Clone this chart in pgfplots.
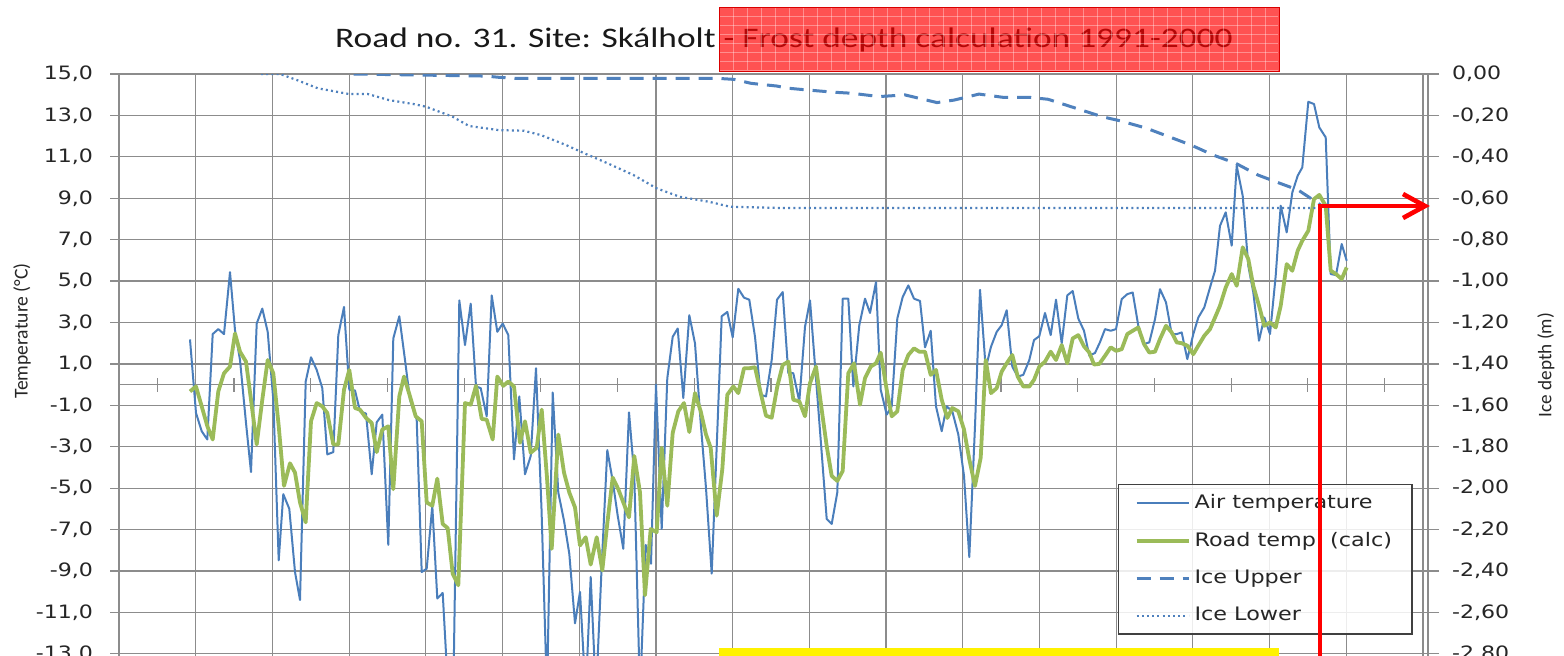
\documentclass[border=0pt]{standalone}
\usepackage{fontspec}
\usepackage{pgfplots}
\pgfplotsset{compat=1.18}
\newfontfamily\dvs{DejaVu Sans}[FakeStretch=1.2]
\newfontfamily\carl{Carlito}[FakeStretch=1.25]
\newfontfamily\carlplain{Carlito}
\definecolor{airblue}{HTML}{4A7EBB}
\definecolor{roadgreen}{HTML}{9BBB59}
\definecolor{iceblue}{HTML}{4F81BD}
\definecolor{gridgray}{HTML}{8C8C8C}
\pgfplotsset{common/.style={at={(59.5pt,-37pt)}, anchor=north west, scale only axis,
  width=654.5pt, height=293pt, xmin=119, xmax=1428}}
\begin{document}
\begin{tikzpicture}
\useasboundingbox (0,0) rectangle (782pt,-327.5pt);
\clip (0,0) rectangle (782pt,-327.5pt);
\fill[white] (0,0) rectangle (782pt,-327.5pt);
\begin{scope}[x=0.5pt,y=-0.5pt]
\node[font=\carl\fontsize{14.15}{16}\selectfont, text=black!90] at (784,40) {Road no. 31. Site: Skálholt - Frost depth calculation 1991-2000};
\node[font=\carlplain\fontsize{9.8}{11}\selectfont, rotate=90, text=black!85] at (22,331) {Temperature (°C)};
\node[font=\carlplain\fontsize{9.6}{11}\selectfont, rotate=90, text=black!85] at (1546,365) {Ice depth (m)};
\end{scope}

% zero line with category ticks
\begin{axis}[common, ymin=-13.3, ymax=15, axis y line=none, axis x line=middle,
  x axis line style={-}, axis line style={gridgray, line width=0.6pt},
  xtick={157.35,234.05,310.75,387.45,464.15,540.85,617.55,694.25,770.95,847.65,924.35,1001.05,1077.75,1154.45,1231.15,1307.85,1384.55},
  xticklabels={}, tick align=center, major tick length=7pt,
  xtick style={gridgray, line width=0.6pt}, ytick=\empty]
\end{axis}

\begin{axis}[common, ymin=-13.3, ymax=15,
  xtick={195.7,272.4,349.1,425.8,502.5,579.2,655.9,732.6,809.3,886.0,962.7,1039.4,1116.1,1192.8,1269.5,1346.2,1422.9},
  xticklabels={}, xtick style={draw=none},
  ytick={-13,-11,-9,-7,-5,-3,-1,1,3,5,7,9,11,13,15}, ytick pos=left,
  tick align=outside, major tick length=4.5pt,
  ytick style={gridgray, line width=0.6pt},
  xmajorgrids, ymajorgrids,
  major grid style={gridgray, line width=0.6pt},
  axis line style={gridgray, line width=0.6pt},
  yticklabel style={font=\dvs\fontsize{9.2}{11}\selectfont, text=black!85, xshift=-5pt,
    /pgf/number format/.cd, fixed, fixed zerofill, precision=1, use comma, assume math mode=true},
  legend style={at={(0.7632,0.3003)}, anchor=north west, draw=black!75, line width=0.7pt,
    fill=white, fill opacity=0.85, text opacity=1, font=\dvs\fontsize{9.3}{11}\selectfont,
    text=black!85, inner xsep=8pt, inner ysep=3pt, row sep=6.3pt,
    /tikz/every even column/.append style={column sep=2pt}},
  legend cell align=left,
  legend image code/.code={\draw[#1] (0pt,0pt) -- (26pt,0pt);},
]
\addplot[airblue, line width=1pt, line join=round] table {
190.0 2.18
196.0 -1.37
201.7 -2.25
207.3 -2.65
212.7 2.44
218.3 2.68
224.0 2.44
230.0 5.43
235.0 2.63
240.0 1.19
246.0 -1.85
251.0 -4.22
256.7 2.95
262.3 3.67
267.7 2.55
273.3 -0.73
278.7 -8.49
283.3 -5.29
289.3 -6.00
295.0 -9.05
300.0 -10.40
305.7 0.15
311.0 1.32
316.7 0.71
322.3 -0.17
327.3 -3.37
333.3 -3.26
338.3 2.39
344.0 3.75
349.3 -0.25
355.0 -0.28
360.0 -1.29
366.0 -1.40
371.7 -4.33
376.7 -1.82
382.3 -1.45
388.3 -7.74
393.3 2.23
399.3 3.30
405.0 1.19
410.0 -0.73
416.7 -1.69
421.7 -9.05
426.7 -8.89
432.3 -5.85
437.3 -10.33
442.7 -10.06
448.3 -15.0
453.3 -15.0
459.3 4.07
465.0 1.91
470.7 3.91
476.0 -0.09
480.7 -0.17
486.7 -1.53
491.7 4.31
497.3 2.55
502.7 2.95
508.3 2.39
514.0 -3.61
519.3 -0.57
525.0 -4.33
530.7 -3.45
536.0 0.79
541.5 -6.00
547.0 -15.0
552.7 -0.38
558.3 -5.21
564.0 -6.57
569.3 -8.17
575.0 -11.53
580.0 -10.01
585.7 -15.0
590.7 -9.29
596.0 -15.0
601.7 -8.73
607.3 -3.16
612.7 -4.65
617.7 -6.33
623.3 -7.93
629.0 -1.34
634.3 -4.41
640.0 -15.0
645.7 -7.74
651.0 -8.65
656.0 0.00
661.7 -6.97
667.3 0.31
672.7 2.31
677.7 2.71
683.3 -0.65
689.3 3.35
695.0 1.99
700.7 -1.85
706.0 -5.00
711.7 -9.13
716.7 -3.00
721.7 3.30
727.3 3.51
732.7 2.28
738.3 4.63
744.0 4.20
749.3 4.10
755.0 2.31
760.7 -0.49
766.0 -0.57
771.7 1.19
777.0 4.10
782.7 4.47
788.3 0.55
793.3 0.55
799.3 -0.81
805.0 2.79
810.0 4.07
816.0 0.30
821.7 -3.30
826.7 -6.49
831.7 -6.73
837.3 -5.21
842.7 4.15
848.3 4.15
853.3 -0.09
859.3 2.87
865.0 4.15
870.0 3.46
876.0 4.95
880.7 -0.25
886.7 -1.45
891.7 -1.05
897.3 3.19
902.7 4.23
908.3 4.79
914.0 4.15
920.0 4.04
925.0 1.80
930.7 2.60
936.0 -1.05
941.7 -2.25
946.7 -1.05
952.3 -1.29
958.3 -2.41
964.0 -4.41
969.3 -8.33
975.0 -2.00
980.0 4.58
985.7 0.79
991.0 1.83
996.7 2.55
1001.7 2.87
1006.7 3.59
1012.3 0.87
1017.7 0.39
1023.3 0.47
1029.3 1.19
1034.0 2.15
1039.3 2.34
1045.0 3.46
1050.7 2.39
1056.0 4.10
1061.7 1.99
1067.3 4.31
1072.7 4.52
1078.3 3.19
1084.0 2.60
1089.3 1.40
1095.0 1.53
1100.0 2.05
1105.0 2.68
1110.7 2.60
1116.0 2.68
1121.7 4.13
1127.3 4.37
1132.7 4.45
1138.3 2.84
1144.0 1.96
1149.3 2.04
1155.0 3.16
1160.0 4.61
1166.0 3.97
1171.7 2.44
1176.7 2.44
1181.7 2.52
1187.3 1.23
1193.3 2.44
1198.3 3.24
1204.3 3.73
1210.0 4.69
1215.0 5.50
1220.0 7.67
1225.7 8.32
1231.7 6.71
1236.7 10.57
1242.7 9.12
1248.3 5.74
1253.3 4.45
1259.0 2.12
1264.3 3.24
1270.0 2.44
1275.7 5.26
1280.7 8.64
1286.7 7.35
1292.3 9.28
1297.7 10.09
1302.3 10.49
1308.3 13.66
1314.0 13.55
1319.3 12.42
1325.7 11.94
1330.7 5.34
1336.0 5.29
1341.7 6.79
1346.7 5.98
};
\addlegendentry{Air temperature}
\addplot[roadgreen, line width=1.9pt, line join=round] table {
190.0 -0.33
196.0 -0.09
201.7 -1.05
207.3 -2.00
212.7 -2.65
218.3 -0.33
224.0 0.55
230.0 0.87
235.0 2.47
240.0 1.59
246.0 1.11
251.0 -0.73
256.7 -2.89
262.3 -0.73
267.7 1.19
273.3 0.55
278.7 -2.00
284.0 -4.89
290.0 -3.80
295.0 -4.25
300.0 -5.69
305.7 -6.65
311.0 -1.77
316.7 -0.89
322.3 -1.05
327.3 -1.37
333.3 -2.89
338.3 -2.89
344.0 -0.25
349.3 0.71
355.0 -1.13
360.0 -1.21
366.0 -1.61
371.7 -1.85
376.7 -3.26
382.3 -2.17
388.3 -2.01
393.3 -5.05
399.3 -0.57
404.0 0.39
410.0 -0.57
415.7 -1.53
421.7 -1.77
426.7 -5.69
432.3 -5.85
437.3 -4.54
442.7 -6.73
447.7 -6.93
452.7 -9.13
458.3 -9.69
465.0 -0.89
470.7 -0.97
476.0 -0.06
481.7 -1.66
486.7 -1.69
492.7 -2.65
497.3 0.39
503.3 -0.06
508.3 0.15
514.0 -0.09
520.0 -2.81
525.0 -1.77
530.7 -3.29
536.7 -3.05
541.7 -1.21
547.0 -4.50
551.7 -7.93
558.3 -2.41
564.0 -4.25
569.3 -5.21
575.0 -5.93
580.0 -7.77
585.7 -7.37
590.7 -8.69
596.7 -7.37
602.3 -8.97
607.3 -6.70
612.7 -4.49
618.3 -5.05
623.3 -5.69
629.0 -6.41
634.3 -3.45
640.0 -5.21
645.0 -10.17
650.7 -6.97
656.7 -7.13
661.7 -3.05
667.3 -5.85
672.7 -2.33
678.3 -1.29
684.0 -0.89
689.3 -2.29
695.0 -0.41
700.7 -1.29
706.0 -2.41
710.7 -3.05
716.7 -6.33
722.3 -4.09
727.3 -0.49
733.3 -0.09
738.3 -0.41
744.0 0.79
749.3 0.79
755.0 0.84
760.7 -0.40
766.0 -1.50
771.7 -1.60
777.3 -0.09
782.7 0.95
788.3 1.11
793.3 -0.73
799.3 -0.81
805.0 -1.53
810.0 0.07
816.0 0.87
821.7 -1.21
826.7 -2.97
831.7 -4.41
837.3 -4.65
842.7 -4.17
848.3 0.55
854.0 1.03
860.0 -0.97
865.0 0.31
870.7 0.87
876.0 1.03
880.7 1.54
886.7 -0.25
891.7 -1.53
897.3 -1.29
902.7 0.71
908.3 1.43
914.0 1.75
919.3 1.59
925.0 1.59
930.7 0.47
936.0 0.71
941.7 -0.73
947.3 -1.61
952.3 -1.13
958.3 -1.29
964.0 -2.17
969.3 -3.61
975.0 -4.89
980.7 -3.53
985.7 1.19
991.0 -0.41
996.7 -0.17
1001.7 0.63
1006.7 1.03
1012.3 1.43
1017.7 0.39
1023.3 -0.09
1029.3 -0.09
1034.0 0.23
1039.3 0.87
1045.0 1.11
1050.7 1.59
1056.0 1.19
1061.7 1.91
1067.3 1.03
1072.7 2.23
1078.3 2.39
1084.0 1.85
1089.3 1.55
1094.0 0.97
1099.3 1.00
1105.0 1.39
1110.7 1.80
1116.0 1.63
1121.7 1.71
1127.3 2.44
1132.7 2.60
1138.3 2.76
1144.0 1.96
1149.3 1.55
1155.0 1.59
1160.0 2.20
1166.0 2.84
1171.7 2.52
1176.7 2.04
1181.7 2.00
1187.3 1.88
1193.3 1.47
1198.3 1.88
1204.3 2.36
1210.0 2.68
1215.0 3.24
1220.0 3.81
1225.7 4.69
1231.7 5.34
1236.7 4.77
1242.7 6.63
1248.3 6.06
1253.3 4.77
1259.0 3.81
1264.3 2.84
1270.0 3.00
1275.7 2.76
1280.7 3.81
1286.7 5.82
1292.3 5.50
1297.7 6.47
1302.3 6.95
1308.3 7.43
1314.0 8.96
1319.3 9.16
1325.7 8.64
1330.7 5.50
1336.0 5.34
1341.7 5.10
1346.7 5.66
};
\addlegendentry{Road temp\ \ (calc)}
\addlegendimage{iceblue, line width=1.5pt, dash pattern=on 7pt off 4.5pt}
\addlegendentry{Ice Upper}
\addlegendimage{iceblue, line width=1.1pt, dash pattern=on 1pt off 1.6pt}
\addlegendentry{Ice Lower}
\end{axis}

\begin{axis}[common, ymin=-2.83, ymax=0,
  axis x line=none, axis y line*=right,
  ytick={0,-0.2,-0.4,-0.6,-0.8,-1,-1.2,-1.4,-1.6,-1.8,-2,-2.2,-2.4,-2.6,-2.8},
  tick align=outside, major tick length=5.5pt,
  ytick style={gridgray, line width=0.6pt},
  axis line style={gridgray, line width=0.6pt},
  yticklabel style={font=\dvs\fontsize{9.2}{11}\selectfont, text=black!85, xshift=3pt,
    /pgf/number format/.cd, fixed, fixed zerofill, precision=2, use comma, assume math mode=true},
]
\addplot[iceblue, line width=1.5pt, dash pattern=on 7pt off 4.5pt] table {
353.6 0.000
486.0 -0.010
499.0 -0.016
515.6 -0.021
717.6 -0.021
734.0 -0.026
751.0 -0.045
776.6 -0.058
789.0 -0.069
807.0 -0.077
834.0 -0.088
852.0 -0.093
879.0 -0.109
905.0 -0.101
937.0 -0.138
954.0 -0.126
979.0 -0.097
1003.6 -0.113
1030.0 -0.113
1048.0 -0.122
1075.0 -0.164
1102.0 -0.206
1120.0 -0.226
1146.0 -0.261
1169.0 -0.303
1191.0 -0.343
1213.0 -0.391
1236.0 -0.432
1258.0 -0.488
1280.0 -0.528
1298.0 -0.560
1316.0 -0.617
1323.0 -0.641
};
\addplot[iceblue, line width=1.1pt, dash pattern=on 1pt off 1.6pt] table {
261.0 0.000
280.0 0.000
296.8 -0.029
317.8 -0.069
349.4 -0.097
368.0 -0.097
389.0 -0.126
414.6 -0.146
426.0 -0.158
452.5 -0.206
469.0 -0.251
498.8 -0.271
524.0 -0.274
541.0 -0.295
566.0 -0.343
583.0 -0.380
608.0 -0.432
633.5 -0.488
656.6 -0.552
679.8 -0.593
709.0 -0.617
730.0 -0.641
780.0 -0.647
1323.0 -0.647
};
\end{axis}

\begin{scope}[x=0.5pt,y=-0.5pt]
% red hatched box over the title
\fill[red, fill opacity=0.68] (719,7) rectangle (1279,71);
\foreach \gx in {733,747,...,1275} \draw[white, opacity=0.35, line width=0.3pt] (\gx,8) -- (\gx,70);
\foreach \gy in {16,25,...,70} \draw[white, opacity=0.35, line width=0.3pt] (720,\gy) -- (1278,\gy);
\draw[red!85!black, line width=0.5pt] (719,7) rectangle (1279,71);
% yellow box at the bottom
\fill[yellow] (719,648) rectangle (1279,670);
% red arrow
\draw[red, line width=2.3pt, line join=miter] (1320,670) -- (1320,206) -- (1422,206);
\draw[red, line width=2.3pt, line join=miter] (1403,194) -- (1425,206) -- (1403,218);
\end{scope}
\end{tikzpicture}
\end{document}
